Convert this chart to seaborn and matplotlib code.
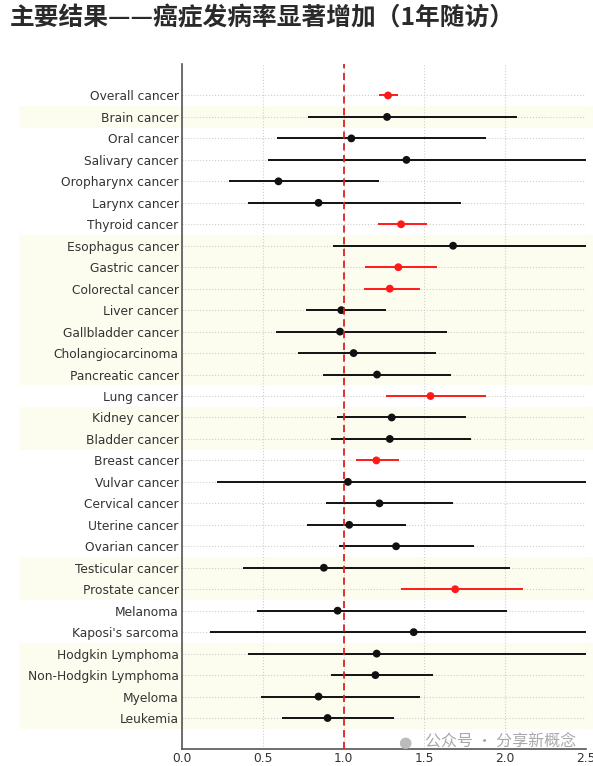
import numpy as np
import pandas as pd
import matplotlib
matplotlib.use("Agg")
import matplotlib.pyplot as plt
import matplotlib.transforms as mtransforms
from matplotlib.patches import Rectangle
import seaborn as sns

categories = ["Overall cancer", "Brain cancer", "Oral cancer", "Salivary cancer",
              "Oropharynx cancer", "Larynx cancer", "Thyroid cancer", "Esophagus cancer",
              "Gastric cancer", "Colorectal cancer", "Liver cancer", "Gallbladder cancer",
              "Cholangiocarcinoma", "Pancreatic cancer", "Lung cancer", "Kidney cancer",
              "Bladder cancer", "Breast cancer", "Vulvar cancer", "Cervical cancer",
              "Uterine cancer", "Ovarian cancer", "Testicular cancer", "Prostate cancer",
              "Melanoma", "Kaposi's sarcoma", "Hodgkin Lymphoma", "Non-Hodgkin Lymphoma",
              "Myeloma", "Leukemia"]
estimate = [1.275, 1.269, 1.048, 1.389, 0.597, 0.845, 1.356, 1.678, 1.339, 1.286,
            0.986, 0.978, 1.062, 1.207, 1.538, 1.298, 1.286, 1.203, 1.027, 1.222,
            1.035, 1.325, 0.878, 1.691, 0.963, 1.434, 1.205, 1.197, 0.845, 0.901]
ci_low = [1.217, 0.777, 0.587, 0.535, 0.293, 0.411, 1.211, 0.936, 1.135, 1.126,
          0.767, 0.583, 0.717, 0.872, 1.263, 0.959, 0.924, 1.077, 0.219, 0.891,
          0.773, 0.969, 0.380, 1.354, 0.463, 0.173, 0.411, 0.922, 0.487, 0.618]
ci_high = [1.335, 2.071, 1.879, 2.6, 1.219, 1.724, 1.517, 2.6, 1.579, 1.470,
           1.265, 1.641, 1.571, 1.668, 1.879, 1.755, 1.790, 1.343, 2.6, 1.679,
           1.385, 1.807, 2.030, 2.113, 2.009, 2.6, 2.6, 1.552, 1.476, 1.313]
significant = [True, False, False, False, False, False, True, False, True, True,
               False, False, False, False, True, False, False, True, False, False,
               False, False, False, True, False, False, False, False, False, False]
shaded_groups = [(1, 1), (7, 13), (15, 16), (22, 23), (26, 29)]
xticks = [0.0, 0.5, 1.0, 1.5, 2.0, 2.5]

df = pd.DataFrame({"cat": categories, "est": estimate, "lo": ci_low, "hi": ci_high,
                   "sig": ["sig" if s else "ns" for s in significant]})
df["pos"] = np.arange(len(df))

sns.set_style("white")
plt.rcParams["font.family"] = ["DejaVu Sans"]

fig = plt.figure(figsize=(5.93, 7.66), dpi=100)
ax = fig.add_axes([0.307, 0.022, 0.681, 0.894])
ax.set_zorder(1)
ax.set_facecolor("none")

# shaded bands spanning figure width
trans = mtransforms.blended_transform_factory(fig.transFigure, ax.transData)
for a, b in shaded_groups:
    fig.patches.append(Rectangle((0.032, a - 0.5), 0.968, b - a + 1, transform=trans,
                                 facecolor="#fcfcef", edgecolor="none", zorder=-1))

colors = {"sig": "#ff1a1a", "ns": "#111111"}
for _, r in df.iterrows():
    ax.hlines(r["pos"], r["lo"], r["hi"], color=colors[r["sig"]], lw=1.4, zorder=3)

sns.scatterplot(data=df, x="est", y="pos", hue="sig", palette=colors, s=32,
                edgecolor="none", legend=False, ax=ax, zorder=4)

ax.axvline(1.0, color="#e02020", ls=(0, (4, 2.5)), lw=1.3, zorder=5)

ax.set_xlim(0, 2.5)
ax.set_ylim(30.45, -1.45)
ax.set_yticks(df["pos"])
ax.set_yticklabels(categories)
ax.set_xticks(xticks)
ax.set_xticklabels([f"{t:.1f}" for t in xticks])
ax.set_xlabel("")
ax.set_ylabel("")
ax.grid(True, ls=":", color="#cfcfcf", lw=0.8, zorder=1)
ax.set_axisbelow(True)
ax.tick_params(axis="y", direction="in", length=3, pad=2.5, labelsize=8.8,
               labelcolor="#333333", color="#555555")
ax.tick_params(axis="x", direction="in", length=0, pad=2.0, labelsize=8.8,
               labelcolor="#333333")
for s in ["top", "right"]:
    ax.spines[s].set_visible(False)
for s in ["left", "bottom"]:
    ax.spines[s].set_color("#555555")
    ax.spines[s].set_linewidth(1.2)

fig.text(0.017, 0.976, "主要结果——癌症发病率显著增加（1年随访）",
         family=["Noto Sans CJK SC", "DejaVu Sans"], fontweight="heavy",
         fontsize=17.8, color="#2a2a2a", ha="left", va="center")

fig.text(0.717, 0.031, "公众号 · 分享新概念", family=["Noto Sans CJK SC", "DejaVu Sans"],
         fontsize=11.5, color="#a0a0a0", alpha=0.9, ha="left", va="center", zorder=5)
fig.text(0.672, 0.031, "●", family=["DejaVu Sans"], fontsize=11, color="#bbbbbb",
         ha="left", va="center", zorder=5)

fig.savefig("out.png", dpi=100)
